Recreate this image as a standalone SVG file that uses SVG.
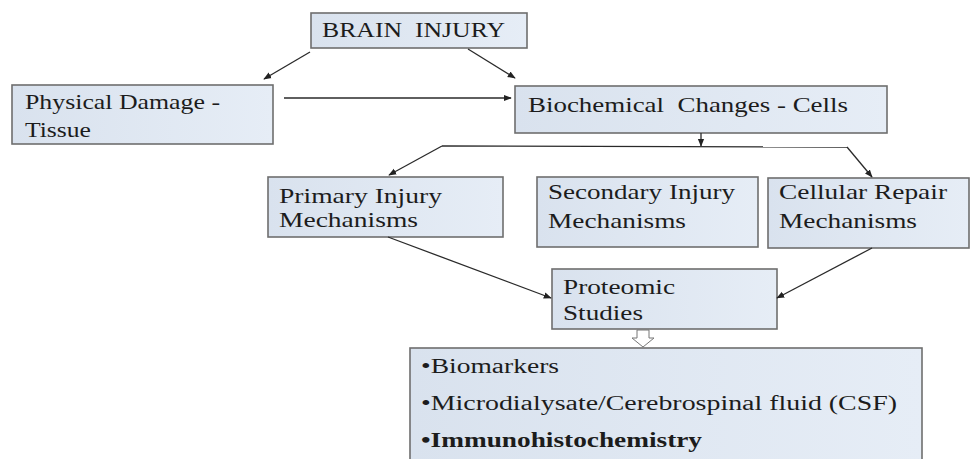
<svg xmlns="http://www.w3.org/2000/svg" width="971" height="459" viewBox="0 0 971 459">
<defs>
<linearGradient id="bg" x1="0" y1="0" x2="1" y2="0">
<stop offset="0" stop-color="#d9e2ee"/>
<stop offset="1" stop-color="#e6edf6"/>
</linearGradient>
<marker id="ah" viewBox="0 0 10 10" refX="9" refY="5" markerWidth="8" markerHeight="8" markerUnits="userSpaceOnUse" orient="auto">
<path d="M0,1 L10,5 L0,9 Z" fill="#222"/>
</marker>
</defs>
<style>
.box{fill:url(#bg);stroke:#6e6e6e;stroke-width:1.6}
.t{font-family:"Liberation Serif","Times New Roman",serif;font-size:21px;fill:#1c1c1c;white-space:pre}
.b{font-weight:bold}
.c{fill:none;stroke:#2a2a2a;stroke-width:1.3}
.a{marker-end:url(#ah)}
</style>
<rect width="971" height="459" fill="#ffffff"/>
<g id="brain-injury">
<rect class="box" x="311" y="13" width="216" height="35"/>
<text class="t" x="322" y="37" style="font-size:22px" textLength="183" lengthAdjust="spacingAndGlyphs">BRAIN  INJURY</text>
</g>
<g id="physical-damage">
<rect class="box" x="12" y="85" width="261" height="59"/>
<text class="t" x="25" y="109" textLength="195" lengthAdjust="spacingAndGlyphs">Physical Damage -</text>
<text class="t" x="25" y="137" textLength="66" lengthAdjust="spacingAndGlyphs">Tissue</text>
</g>
<g id="biochemical-changes">
<rect class="box" x="515" y="86" width="372" height="47"/>
<text class="t" x="528" y="112" textLength="320" lengthAdjust="spacingAndGlyphs">Biochemical  Changes - Cells</text>
</g>
<g id="primary-injury">
<rect class="box" x="268" y="177" width="235" height="60"/>
<text class="t" x="279" y="203" textLength="163" lengthAdjust="spacingAndGlyphs">Primary Injury</text>
<text class="t" x="279" y="227" textLength="139" lengthAdjust="spacingAndGlyphs">Mechanisms</text>
</g>
<g id="secondary-injury">
<rect class="box" x="537" y="177" width="221" height="70"/>
<text class="t" x="548" y="199" textLength="187" lengthAdjust="spacingAndGlyphs">Secondary Injury</text>
<text class="t" x="548" y="228" textLength="138" lengthAdjust="spacingAndGlyphs">Mechanisms</text>
</g>
<g id="cellular-repair">
<rect class="box" x="768" y="178" width="201" height="70"/>
<text class="t" x="779" y="199" textLength="168" lengthAdjust="spacingAndGlyphs">Cellular Repair</text>
<text class="t" x="779" y="228" textLength="138" lengthAdjust="spacingAndGlyphs">Mechanisms</text>
</g>
<g id="proteomic-studies">
<rect class="box" x="552" y="269" width="225" height="60"/>
<text class="t" x="563" y="294" textLength="112" lengthAdjust="spacingAndGlyphs">Proteomic</text>
<text class="t" x="563" y="320" textLength="80" lengthAdjust="spacingAndGlyphs">Studies</text>
</g>
<g id="methods">
<rect class="box" x="410" y="348" width="512" height="116"/>
<text class="t" x="421" y="373" style="font-size:20px" textLength="138" lengthAdjust="spacingAndGlyphs">•Biomarkers</text>
<text class="t" x="421" y="410" style="font-size:20px" textLength="476" lengthAdjust="spacingAndGlyphs">•Microdialysate/Cerebrospinal fluid (CSF)</text>
<text class="t b" x="421" y="447" style="font-size:20px" textLength="281" lengthAdjust="spacingAndGlyphs">•Immunohistochemistry</text>
</g>
<g id="connectors">
<line class="c a" x1="310" y1="52" x2="264" y2="79"/>
<line class="c a" x1="468" y1="49" x2="515" y2="78"/>
<line class="c a" x1="284" y1="98" x2="511" y2="98"/>
<line class="c a" x1="701" y1="133" x2="701" y2="146"/>
<line class="c" x1="442" y1="146" x2="847" y2="147"/>
<line class="c a" x1="442" y1="146" x2="389" y2="175"/>
<line class="c a" x1="847" y1="147" x2="872" y2="177"/>
<line class="c a" x1="388" y1="237" x2="551" y2="298"/>
<line class="c a" x1="872" y1="248" x2="777" y2="298"/>
<path d="M637,330 L649,330 L649,338 L654,338 L643,347 L632,338 L637,338 Z" fill="#ffffff" stroke="#777" stroke-width="1"/>
</g>
</svg>
